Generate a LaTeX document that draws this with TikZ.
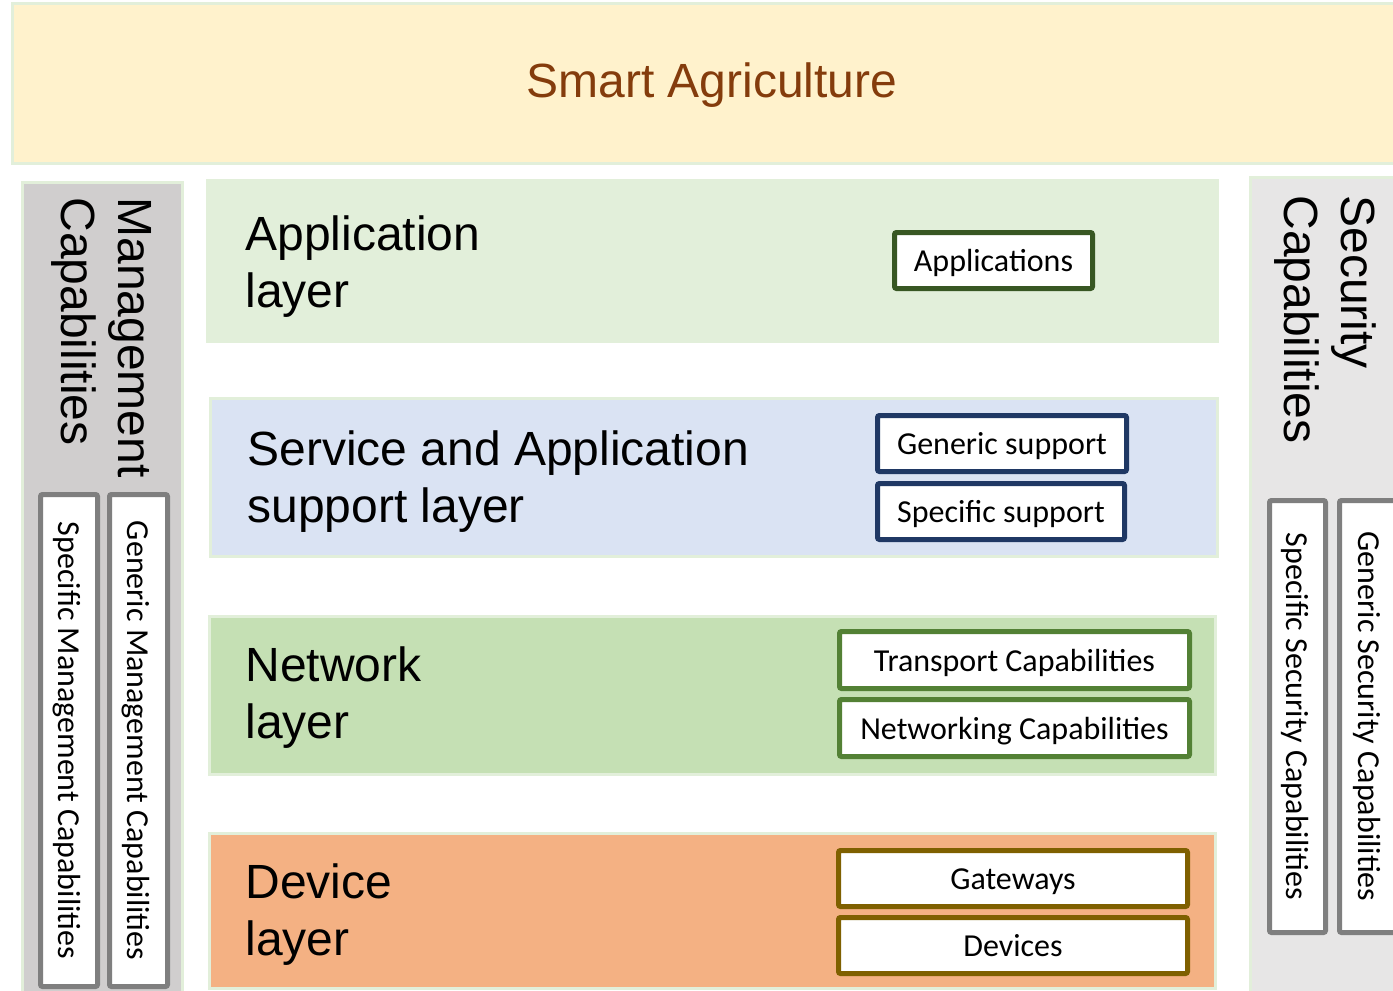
\documentclass[tikz,border=0pt]{standalone}
\usepackage{fontspec}
\setmainfont{Liberation Sans}
\newfontfamily\carlito{Carlito}
\usetikzlibrary{positioning}

\definecolor{paleborder}{HTML}{E2EFDA}
\definecolor{bannerfill}{HTML}{FFF2CC}
\definecolor{bannertext}{HTML}{843C0C}
\definecolor{mgmtfill}{HTML}{D0CECE}
\definecolor{secfill}{HTML}{E7E6E6}
\definecolor{boxgray}{HTML}{7F7F7F}
\definecolor{appfill}{HTML}{E2EFDA}
\definecolor{svcfill}{HTML}{DAE3F3}
\definecolor{netfill}{HTML}{C5E0B4}
\definecolor{devfill}{HTML}{F4B183}
\definecolor{appborder}{HTML}{385723}
\definecolor{svcborder}{HTML}{1F3864}
\definecolor{netborder}{HTML}{538135}
\definecolor{devborder}{HTML}{7F6000}

\tikzset{
    band/.style={draw=paleborder, line width=1.5pt},
    bigtext/.style={font=\fontsize{24}{28.5}\selectfont, align=left, inner sep=0pt},
    capbox/.style={draw, line width=2.5pt, fill=white, rounded corners=1pt, inner sep=0pt,
        text height=14pt, text depth=3pt, font=\carlito\fontsize{16}{19}\selectfont},
}

\begin{document}
\begin{tikzpicture}[x=0.5pt, y=-0.5pt]

    % the frame
    \path[use as bounding box] (0,0) rectangle (1393,991);
    \path[clip] (0,0) rectangle (1393,991);

    % banner
    \draw[band, fill=bannerfill] (12,3) rectangle (1400,163);
    \node[bigtext, text=bannertext] (smart) at (712,85) {Smart Agriculture};

    % side columns
    \draw[band, fill=mgmtfill] (22,182) rectangle (182,1000);
    \draw[band, fill=secfill] (1250,177) rectangle (1400,1000);
    \node[bigtext, rotate=-90, anchor=north west] (mgmt) at (152,197) {Management\\Capabilities};
    \node[bigtext, rotate=-90, anchor=north west] (sec) at (1377,195) {Security\\Capabilities};

    \foreach \id/\cx/\cy/\len/\thick/\txt in {
        specmgmt/69/740.5/246/28.5/Specific Management Capabilities,
        genmgmt/138.5/740.5/246/29/Generic Management Capabilities,
        specsec/1297.5/716.5/216/28/Specific Security Capabilities,
        gensec/1369/716.5/216/29.5/Generic Security Capabilities} {
        \node[capbox, draw=boxgray, rotate=-90, minimum width=\len pt, minimum height=\thick pt] (\id) at (\cx,\cy) {\txt};
    }

    % the layers
    \draw[band, draw=appfill, fill=appfill] (207,180) rectangle (1217,341);
    \draw[band, fill=svcfill] (210,398) rectangle (1217,556);
    \draw[band, fill=netfill] (209,616) rectangle (1215,774);
    \draw[band, fill=devfill] (209,833) rectangle (1215,988);

    \node[bigtext, anchor=north west] (applayer) at (245,215) {Application\\layer};
    \node[bigtext, anchor=north west] (svclayer) at (247,430) {Service and Application\\support layer};
    \node[bigtext, anchor=north west] (netlayer) at (245,646) {Network\\layer};
    \node[bigtext, anchor=north west] (devlayer) at (245,863) {Device\\layer};

    % capability boxes
    \node[capbox, draw=appborder, minimum width=99pt, minimum height=28pt] (apps) at (993.5,260.5) {Applications};

    \node[capbox, draw=svcborder, minimum width=124.5pt, minimum height=28pt] (gensup) at (1002,443.5) {Generic support};
    \node[capbox, draw=svcborder, minimum width=123.5pt, minimum height=28pt] (specsup) at (1001,511.5) {Specific support};

    \node[capbox, draw=netborder, minimum width=175pt, minimum height=28.5pt] (transport) at (1014.5,660) {Transport Capabilities};
    \node[capbox, draw=netborder, minimum width=175pt, minimum height=28.5pt] (networking) at (1014.5,728) {Networking Capabilities};

    \node[capbox, draw=devborder, minimum width=174.5pt, minimum height=28pt] (gateways) at (1013,878.5) {Gateways};
    \node[capbox, draw=devborder, minimum width=174.5pt, minimum height=28pt] (devices) at (1013,945.5) {Devices};

\end{tikzpicture}
\end{document}
